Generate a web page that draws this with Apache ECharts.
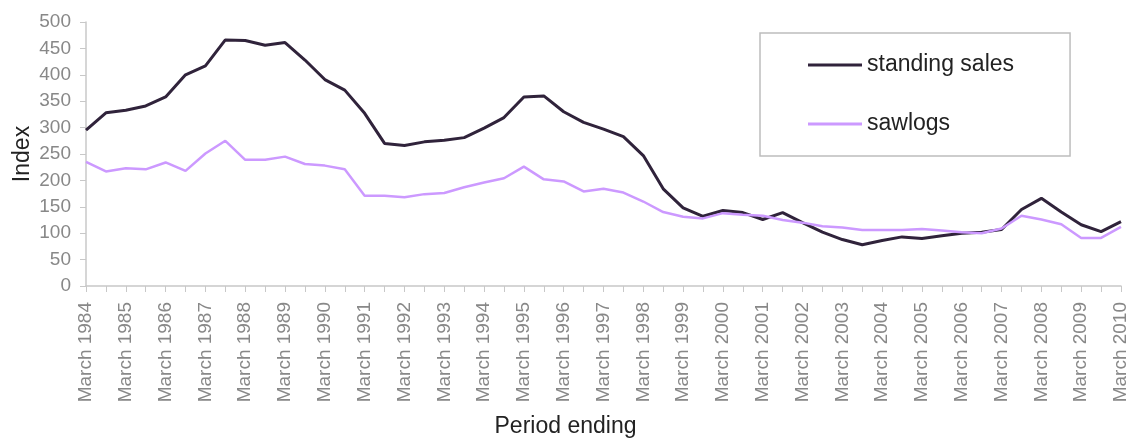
<!DOCTYPE html>
<html>
<head>
<meta charset="utf-8">
<script src="https://cdn.jsdelivr.net/npm/echarts@6/dist/echarts.min.js"></script>
<style>
html,body{margin:0;padding:0;background:#fff;}
#chart{width:1131px;height:441px;}
</style>
</head>
<body>
<div id="chart"></div>
<script>
var years = [];
for (var y = 1984; y <= 2010; y++) { years.push(y); }
var categories = [];
years.forEach(function (y, i) {
  categories.push('March ' + y);
  if (y < 2010) categories.push('September ' + y);
});

var standingSales = [295, 328, 333, 341, 358, 400, 417, 466, 465, 456, 461, 428, 391, 371, 327,
  270, 266, 273, 276, 281, 299, 319, 358, 360, 330, 310, 297, 283, 247, 184, 148, 132, 143, 139,
  126, 139, 120, 102, 88, 78, 86, 93, 90, 95, 100, 102, 107, 145, 166, 140, 116, 103, 122];

var sawlogs = [235, 217, 223, 221, 234, 218, 251, 275, 239, 239, 245, 231, 228, 221, 171,
  171, 168, 174, 176, 187, 196, 204, 226, 202, 198, 179, 184, 177, 160, 140, 131, 128, 138, 135,
  133, 125, 120, 113, 111, 106, 106, 106, 108, 105, 102, 100, 109, 133, 126, 117, 91, 91, 112];

var yTicks = [0, 50, 100, 150, 200, 250, 300, 350, 400, 450, 500];

var FONT = '"Liberation Sans", Arial, sans-serif';
var chart = echarts.init(document.getElementById('chart'), null, {renderer: 'canvas'});
chart.setOption({
  animation: false,
  backgroundColor: '#ffffff',
  textStyle: {fontFamily: FONT},
  grid: {left: 86, right: 10, top: 22, bottom: 155, containLabel: false, outerBoundsMode: 'none'},
  legend: {
    orient: 'vertical',
    left: 760,
    top: 33,
    padding: [20, 56, 20, 48],
    itemGap: 35,
    itemWidth: 54,
    itemHeight: 3,
    itemTextGap: 6,
    borderColor: '#bdbdbd',
    borderWidth: 1.5,
    icon: 'rect',
    textStyle: {fontSize: 23, lineHeight: 24, color: '#222', fontFamily: FONT},
    data: ['standing sales', 'sawlogs']
  },
  xAxis: {
    type: 'category',
    data: categories,
    boundaryGap: false,
    name: 'Period ending',
    nameLocation: 'middle',
    nameGap: 129,
    nameTextStyle: {fontSize: 23, color: '#222', fontFamily: FONT, padding: [0, 76, 0, 0]},
    axisLine: {lineStyle: {color: '#c8c8c8', width: 1.5}},
    axisTick: {show: true, interval: 0, length: 6, lineStyle: {color: '#c8c8c8'}},
    axisLabel: {
      interval: 1,
      rotate: 90,
      margin: 16,
      fontSize: 19,
      color: '#888',
      fontFamily: FONT
    },
    splitLine: {show: false}
  },
  yAxis: {
    type: 'value',
    min: yTicks[0],
    max: yTicks[yTicks.length - 1],
    interval: 50,
    name: 'Index',
    nameLocation: 'middle',
    nameRotate: 90,
    nameGap: 52,
    nameMoveOverlap: false,
    nameTextStyle: {fontSize: 23, color: '#222', fontFamily: FONT},
    axisLine: {show: true, lineStyle: {color: '#c8c8c8', width: 1.5}},
    axisTick: {show: true, length: 6, lineStyle: {color: '#c8c8c8'}},
    axisLabel: {margin: 15, fontSize: 19, color: '#888', fontFamily: FONT},
    splitLine: {show: false}
  },
  series: [
    {
      name: 'standing sales',
      type: 'line',
      data: standingSales,
      showSymbol: false,
      symbol: 'none',
      color: '#30233b',
      lineStyle: {color: '#30233b', width: 3}
    },
    {
      name: 'sawlogs',
      type: 'line',
      data: sawlogs,
      showSymbol: false,
      symbol: 'none',
      color: '#cc99ff',
      lineStyle: {color: '#cc99ff', width: 2.5}
    }
  ]
});
</script>
</body>
</html>
